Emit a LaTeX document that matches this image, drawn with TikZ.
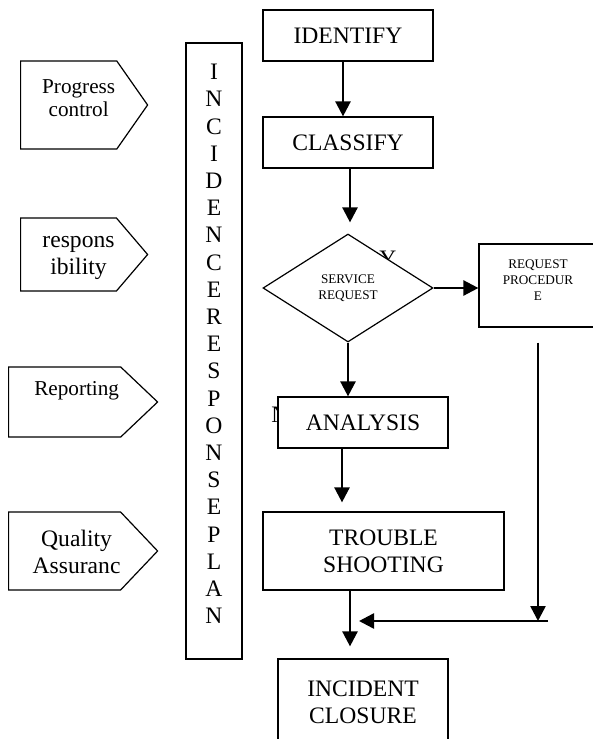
\documentclass[tikz,border=0pt]{standalone}
\usepackage{fontspec}
\setmainfont{Liberation Serif}
\usetikzlibrary{shapes.geometric,shapes.symbols,arrows.meta}

\begin{document}
\begin{tikzpicture}[x=1pt,y=-1pt,
        box/.style={draw, line width=1.2pt, fill=white, inner sep=0pt},
        tag/.style={box, shape=signal, signal to=east, anchor=west},
        arr/.style={line width=2.5pt, -{Triangle[length=15pt,width=15pt]}},
        bigtext/.style={font=\fontsize{23.6}{27.2}\selectfont},
        midtext/.style={font=\fontsize{21.2}{23}\selectfont},
        smalltext/.style={font=\fontsize{13.2}{16}\selectfont}]
    \useasboundingbox (0,0) rectangle (593,739);
    % letters left under the boxes
    \node[bigtext] (yes) at (388,259) {Y};
    \node[bigtext] (no) at (280,415) {N};

    % left side
    \node[tag, signal pointer angle=110, minimum width=127pt, minimum height=88pt,
        label={[midtext, align=center, xshift=10pt, yshift=6.5pt]center:Progress\\control}] (progress) at (20,105) {};
    \node[tag, signal pointer angle=99, minimum width=127pt, minimum height=73pt,
        label={[bigtext, align=center, xshift=10pt, yshift=-3.5pt]center:respons\\ibility}] (respons) at (20,254.5) {};
    \node[tag, signal pointer angle=87, minimum width=149pt, minimum height=70pt,
        label={[midtext, xshift=12pt, yshift=11pt]center:Reporting}] (reporting) at (8,402) {};
    \node[tag, signal pointer angle=93, minimum width=149pt, minimum height=78pt,
        label={[bigtext, align=center, xshift=12pt, yshift=-1pt]center:Quality\\Assuranc}] (quality) at (8,551) {};
    \node[box, bigtext, align=center, minimum width=56pt, minimum height=616pt, text depth=14pt] (plan) at (214,351)
        {I\\N\\C\\I\\D\\E\\N\\C\\E\\R\\E\\S\\P\\O\\N\\S\\E\\P\\L\\A\\N};

    % flow
    \node[box, bigtext, minimum width=170pt, minimum height=51pt] (identify) at (348,35.5) {IDENTIFY};
    \node[box, bigtext, minimum width=170pt, minimum height=51pt] (classify) at (348,142.5) {CLASSIFY};
    \node[box, smalltext, shape=diamond, aspect=1.57, minimum width=170pt, minimum height=108pt, align=center] (service) at (348,288) {SERVICE\\REQUEST};
    \node[box, minimum width=118pt, minimum height=83pt,
        label={[smalltext, align=center, anchor=north, yshift=-13pt]north:REQUEST\\PROCEDUR\\E}] (request) at (538,285.5) {};
    \node[box, bigtext, minimum width=170pt, minimum height=51pt] (analysis) at (363,422.5) {ANALYSIS};
    \node[box, bigtext, align=center, minimum width=241pt, minimum height=78pt] (trouble) at (383.5,551) {TROUBLE\\SHOOTING};
    \node[box, bigtext, align=center, minimum width=170pt, minimum height=86pt] (closure) at (363,702) {INCIDENT\\CLOSURE};

    \coordinate (back) at (539,621);
    \coordinate (merge) at (359,621);

    \draw[arr] ([xshift=-5pt]identify.south) -- ([xshift=-5pt]classify.north);
    \draw[arr] ([xshift=2pt]classify.south) -- ([xshift=2pt,yshift=11pt]service.north);
    \draw[arr] (service.east) -- (service.east -| request.west);
    \draw[arr] (service.south) -- (service.south |- analysis.north);
    \draw[arr] ([xshift=-21pt]analysis.south) -- ([xshift=-41.5pt,yshift=9pt]trouble.north);
    \draw[arr] ([xshift=-33.5pt]trouble.south) -- ([xshift=-13pt,yshift=12pt]closure.north);
    \draw[arr] ([yshift=-15pt]request.south) -- (request.south |- back);
    \draw[arr] ([xshift=9pt]back) -- (merge);
\end{tikzpicture}
\end{document}
